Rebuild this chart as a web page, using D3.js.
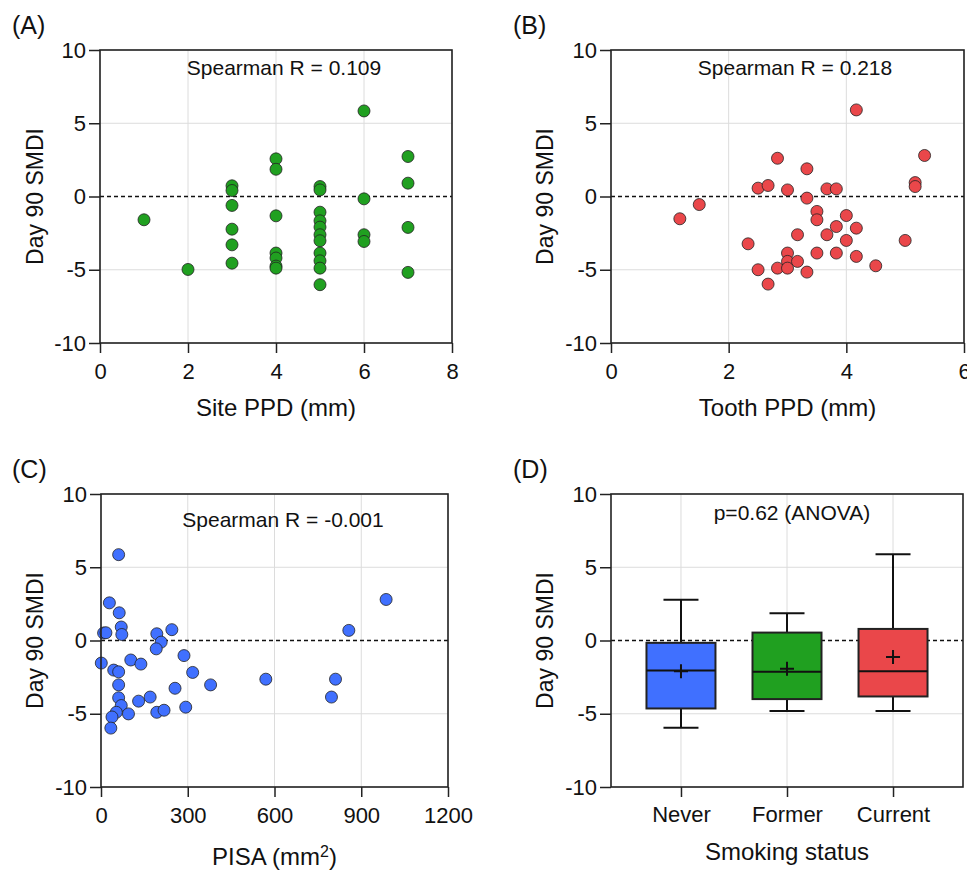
<!DOCTYPE html>
<html>
<head>
<meta charset="utf-8">
<script src="https://cdn.jsdelivr.net/npm/d3@7"></script>
<style>
  body { margin: 0; background: #fff; }
  text { font-family: "Liberation Sans", Arial, sans-serif; fill: #111; }
</style>
</head>
<body>
<div id="chart"></div>
<script>
// ---- data ----
const yTicks = [-10, -5, 0, 5, 10];

// (A) site PPD vs day 90 SMDI
const sitePPD  = [1, 2, 3, 3, 3, 3, 3, 3, 4, 4, 4, 4, 4, 4, 4,
                  5, 5, 5, 5, 5, 5, 5, 5, 5, 5, 5, 6, 6, 6, 6, 7, 7, 7, 7];
const siteSMDI = [-1.59, -4.98, 0.73, 0.41, -0.61, -2.23, -3.3, -4.55,
                  2.57, 1.86, -1.32, -3.86, -4.2, -4.75, -4.89,
                  0.68, 0.45, -1.07, -1.66, -2.09, -2.61, -3.02, -3.86, -4.39, -4.89, -6.02,
                  5.84, -0.16, -2.61, -3.07, 2.73, 0.91, -2.11, -5.18];
const siteTicks = [0, 2, 4, 6, 8];

// (B) tooth PPD vs day 90 SMDI
const toothPPD  = [1.17, 1.5, 2.33, 2.5, 2.5, 2.67, 2.67, 2.83, 2.83, 3.0, 3.0, 3.0, 3.0,
                   3.17, 3.17, 3.33, 3.33, 3.33, 3.5, 3.5, 3.5, 3.67, 3.67, 3.83, 3.83, 3.83,
                   4.0, 4.0, 4.17, 4.17, 4.17, 4.5, 5.0, 5.17, 5.17, 5.33];
const toothSMDI = [-1.52, -0.55, -3.23, 0.57, -5.0, 0.75, -5.98, 2.61, -4.89, 0.45, -3.86, -4.43, -4.89,
                   -2.61, -4.43, 1.89, -0.11, -5.16, -1.02, -1.59, -3.86, 0.52, -2.61, 0.52, -2.05, -3.86,
                   -1.3, -3.0, 5.91, -2.16, -4.09, -4.73, -3.0, 0.95, 0.68, 2.8];
const toothTicks = [0, 2, 4, 6];

// (C) PISA vs day 90 SMDI
const pisa     = [61, 29, 63, 70, 72, 9, 17, 1, 44, 61, 61, 61, 70, 53, 38, 34, 95,
                  103, 138, 130, 170, 193, 208, 191, 193, 218, 245, 256, 287, 293, 317, 379,
                  570, 797, 811, 857, 986];
const pisaSMDI = [5.86, 2.57, 1.89, 0.92, 0.41, 0.51, 0.53, -1.54, -2.02, -2.14, -3.03, -3.91, -4.44,
                  -4.9, -5.22, -5.98, -5.01, -1.33, -1.61, -4.14, -3.86, 0.46, -0.11, -0.57, -4.9,
                  -4.76, 0.74, -3.26, -1.03, -4.55, -2.18, -3.03, -2.64, -3.86, -2.64, 0.69, 2.8];
const pisaTicks = [0, 300, 600, 900, 1200];

// (D) smoking status box plots
const smoking  = ["Never", "Former", "Current"];
const boxMin   = [-5.95, -4.82, -4.82];
const boxQ1    = [-4.64, -4.0, -3.82];
const boxMed   = [-2.04, -2.13, -2.1];
const boxQ3    = [-0.16, 0.54, 0.79];
const boxMax   = [2.78, 1.86, 5.88];
const boxMean  = [-2.1, -1.92, -1.13];
const boxColor = ["#4070ff", "#20a020", "#ea474a"];

// ---- drawing ----
const svg = d3.select("#chart").append("svg")
  .attr("width", 967).attr("height", 871);

const tickFmt = d => String(d);

function frame(g, x, y, xGrid, xAxis) {
  const [x0, x1] = x.range();
  const [y0, y1] = y.range();

  g.append("g").selectAll("line").data(xGrid).join("line")
    .attr("x1", d => x(d)).attr("x2", d => x(d))
    .attr("y1", y0).attr("y2", y1)
    .attr("stroke", "#dcdcdc").attr("stroke-width", 1);
  g.append("g").selectAll("line").data(yTicks.filter(d => d !== 0)).join("line")
    .attr("x1", x0).attr("x2", x1)
    .attr("y1", d => y(d)).attr("y2", d => y(d))
    .attr("stroke", "#dcdcdc").attr("stroke-width", 1);

  // zero reference line
  g.append("line")
    .attr("x1", x0).attr("x2", x1)
    .attr("y1", y(0)).attr("y2", y(0))
    .attr("stroke", "#111").attr("stroke-width", 1.5)
    .attr("stroke-dasharray", "4,3");

  const ax = g.append("g").attr("transform", `translate(0,${y0})`).call(xAxis);
  const ay = g.append("g").attr("transform", `translate(${x0},0)`)
    .call(d3.axisLeft(y).tickValues(yTicks).tickSize(11).tickPadding(3).tickFormat(tickFmt));
  [ax, ay].forEach(a => {
    a.select(".domain").remove();
    a.selectAll(".tick line").attr("stroke", "#222").attr("stroke-width", 1.5);
    a.selectAll(".tick text").attr("font-size", 22).attr("fill", "#111")
      .style("font-family", '"Liberation Sans", Arial, sans-serif');
  });
}

function border(g, x, y) {
  const [x0, x1] = x.range();
  const [y0, y1] = y.range();
  g.append("rect")
    .attr("x", x0).attr("y", y1)
    .attr("width", x1 - x0).attr("height", y0 - y1)
    .attr("fill", "none").attr("stroke", "#222").attr("stroke-width", 1.6);
}

function titles(g, x, y, o) {
  const [x0, x1] = x.range();
  const [y0, y1] = y.range();
  g.append("text").attr("x", o.labelX).attr("y", o.labelY)
    .attr("font-size", 25).text(o.label);
  g.append("text")
    .attr("transform", `translate(${o.yTitleX},${(y0 + y1) / 2}) rotate(-90)`)
    .attr("text-anchor", "middle").attr("font-size", 23)
    .text("Day 90 SMDI");
  const xt = g.append("text")
    .attr("x", (x0 + x1) / 2).attr("y", o.xTitleY)
    .attr("text-anchor", "middle").attr("font-size", 24)
    .text(o.xTitle);
  if (o.sup) {
    xt.append("tspan").attr("baseline-shift", "super").attr("font-size", 16).text(o.sup);
    xt.append("tspan").text(")");
  }
  g.append("text").attr("x", o.noteX).attr("y", o.noteY)
    .attr("text-anchor", "middle").attr("font-size", 21)
    .text(o.note);
}

function scatter(o) {
  const g = svg.append("g");
  const x = d3.scaleLinear().domain(o.xDomain).range(o.xRange);
  const y = d3.scaleLinear().domain([-10, 10]).range(o.yRange);
  const xAxis = d3.axisBottom(x).tickValues(o.xTicks).tickSize(10).tickPadding(10).tickFormat(tickFmt);
  frame(g, x, y, o.xTicks, xAxis);
  g.append("g").selectAll("circle").data(o.xs).join("circle")
    .attr("cx", d => x(d))
    .attr("cy", (d, i) => y(o.ys[i]))
    .attr("r", 6)
    .attr("fill", o.color)
    .attr("stroke", "#222").attr("stroke-width", 0.8);
  border(g, x, y);
  titles(g, x, y, o);
}

scatter({
  xs: sitePPD, ys: siteSMDI, xDomain: [0, 8], xTicks: siteTicks,
  xRange: [100, 452], yRange: [343, 50], color: "#20a020",
  label: "(A)", labelX: 12, labelY: 34, yTitleX: 43,
  xTitle: "Site PPD (mm)", xTitleY: 416,
  note: "Spearman R = 0.109", noteX: 284, noteY: 75
});

scatter({
  xs: toothPPD, ys: toothSMDI, xDomain: [0, 6], xTicks: toothTicks,
  xRange: [611, 964], yRange: [343, 50], color: "#ea474a",
  label: "(B)", labelX: 513, labelY: 34, yTitleX: 553,
  xTitle: "Tooth PPD (mm)", xTitleY: 416,
  note: "Spearman R = 0.218", noteX: 795, noteY: 75
});

scatter({
  xs: pisa, ys: pisaSMDI, xDomain: [0, 1200], xTicks: pisaTicks,
  xRange: [101, 448], yRange: [787, 494], color: "#4070ff",
  label: "(C)", labelX: 12, labelY: 478, yTitleX: 43,
  xTitle: "PISA (mm", sup: "2", xTitleY: 865,
  note: "Spearman R = -0.001", noteX: 283, noteY: 527
});

// (D) box plot panel
(function () {
  const g = svg.append("g");
  const x = d3.scalePoint().domain(smoking).range([611, 963]).padding(0.66);
  const y = d3.scaleLinear().domain([-10, 10]).range([787, 494]);
  const xAxis = d3.axisBottom(x).tickSize(10).tickPadding(9);
  frame(g, x, y, smoking, xAxis);

  const boxW = 69, capW = 35;
  const rows = smoking.map((s, i) => ({
    s, min: boxMin[i], q1: boxQ1[i], med: boxMed[i], q3: boxQ3[i],
    max: boxMax[i], mean: boxMean[i], color: boxColor[i]
  }));
  const b = g.append("g").selectAll("g").data(rows).join("g")
    .attr("transform", d => `translate(${x(d.s)},0)`);
  const ln = "#111";
  // whiskers
  b.append("line").attr("y1", d => y(d.max)).attr("y2", d => y(d.q3))
    .attr("stroke", ln).attr("stroke-width", 2);
  b.append("line").attr("y1", d => y(d.q1)).attr("y2", d => y(d.min))
    .attr("stroke", ln).attr("stroke-width", 2);
  b.append("line").attr("x1", -capW / 2).attr("x2", capW / 2)
    .attr("y1", d => y(d.max)).attr("y2", d => y(d.max))
    .attr("stroke", ln).attr("stroke-width", 2);
  b.append("line").attr("x1", -capW / 2).attr("x2", capW / 2)
    .attr("y1", d => y(d.min)).attr("y2", d => y(d.min))
    .attr("stroke", ln).attr("stroke-width", 2);
  // boxes
  b.append("rect").attr("x", -boxW / 2).attr("width", boxW)
    .attr("y", d => y(d.q3)).attr("height", d => y(d.q1) - y(d.q3))
    .attr("fill", d => d.color).attr("stroke", "#222").attr("stroke-width", 2);
  b.append("line").attr("x1", -boxW / 2).attr("x2", boxW / 2)
    .attr("y1", d => y(d.med)).attr("y2", d => y(d.med))
    .attr("stroke", ln).attr("stroke-width", 2);
  // mean marker
  b.append("path")
    .attr("d", d => `M-7,${y(d.mean)}H7M0,${y(d.mean) - 7}V${y(d.mean) + 7}`)
    .attr("stroke", ln).attr("stroke-width", 2);

  border(g, x, y);
  titles(g, x, y, {
    label: "(D)", labelX: 513, labelY: 478, yTitleX: 553,
    xTitle: "Smoking status", xTitleY: 860,
    note: "p=0.62 (ANOVA)", noteX: 792, noteY: 520
  });
})();
</script>
</body>
</html>
